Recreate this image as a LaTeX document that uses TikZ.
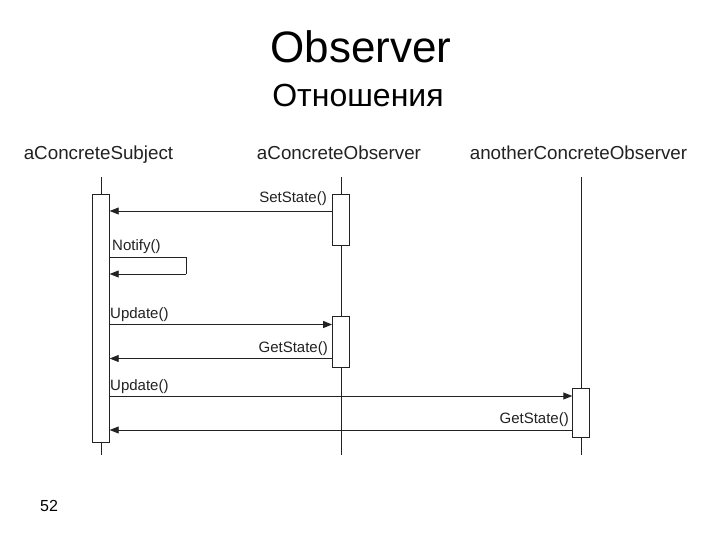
\documentclass[tikz,border=0pt]{standalone}
\usepackage{fontspec}
\setmainfont{Liberation Sans}
\usetikzlibrary{arrows.meta}
\definecolor{ink}{HTML}{222222}
\begin{document}
\begin{tikzpicture}[x=1pt,y=-1pt,
  title/.style={font=\fontsize{44}{48}\selectfont, anchor=base, inner sep=0pt},
  subtitle/.style={font=\fontsize{32}{36}\selectfont, anchor=base, inner sep=0pt},
  head/.style={font=\fontsize{18.8}{22}\selectfont, text=ink, anchor=base, inner sep=0pt},
  lbl/.style={font=\fontsize{15}{18}\selectfont, text=ink, inner sep=0pt},
  life/.style={draw=ink, line width=0.9pt},
  act/.style={draw=ink, fill=white, line width=0.9pt, inner sep=0pt, minimum width=16.5pt},
  msg/.style={draw=ink, line width=0.9pt, -{Triangle[length=9pt,width=7pt]}},
  plain/.style={draw=ink, line width=0.9pt}]
\useasboundingbox (0,0) rectangle (720,540);
\fill[white] (0,0) rectangle (720,540);

\node[title] (t1) at (361,63) {Observer};
\node[subtitle] (t2) at (358,107) {Отношения};

\node[head] (hs) at (98.5,160) {aConcreteSubject};
\node[head] (ho) at (339,160) {aConcreteObserver};
\node[head] (ha) at (578.5,160) {anotherConcreteObserver};

% lifelines
\coordinate (sTop) at (101,177);  \coordinate (sBot) at (101,455);
\coordinate (oTop) at (341,177);  \coordinate (oBot) at (341,455);
\coordinate (aTop) at (581,177);  \coordinate (aBot) at (581,455);
\draw[life] (sTop) -- (sBot);
\draw[life] (oTop) -- (oBot);
\draw[life] (aTop) -- (aBot);

% activation boxes
\node[act, minimum height=248pt] (sbox) at (101,318) {};
\node[act, minimum height=51pt] (obox1) at (340.8,219.5) {};
\node[act, minimum height=51pt] (obox2) at (340.8,341.5) {};
\node[act, minimum height=49.5pt] (abox) at (581,413) {};

% SetState
\draw[msg] (obox1.west |- 0,211) -- (sbox.east |- 0,211);
\node[lbl, anchor=base east] (l1) at (327,203) {SetState()};

% Notify self call
\coordinate (nA) at (186,257.5);
\coordinate (nB) at (186,274);
\draw[plain] (sbox.east |- nA) -- (nA) -- (nB);
\draw[msg] (nB) -- (sbox.east |- nB);
\node[lbl, anchor=base west] (l2) at (112,251) {Notify()};

% Update to observer
\draw[msg] (sbox.east |- 0,324.5) -- (obox2.west |- 0,324.5);
\node[lbl, anchor=base west] (l3) at (110,318) {Update()};

% GetState from observer
\draw[msg] (obox2.west |- 0,358.5) -- (sbox.east |- 0,358.5);
\node[lbl, anchor=base east] (l4) at (328,352) {GetState()};

% Update to another observer
\draw[msg] (sbox.east |- 0,396) -- (abox.west |- 0,396);
\node[lbl, anchor=base west] (l5) at (110,390) {Update()};

% GetState from another observer
\draw[msg] (abox.west |- 0,430) -- (sbox.east |- 0,430);
\node[lbl, anchor=base east] (l6) at (569,423) {GetState()};

\node[font=\fontsize{16}{18}\selectfont, anchor=base west, inner sep=0pt] (pg) at (40,511) {52};
\end{tikzpicture}
\end{document}
